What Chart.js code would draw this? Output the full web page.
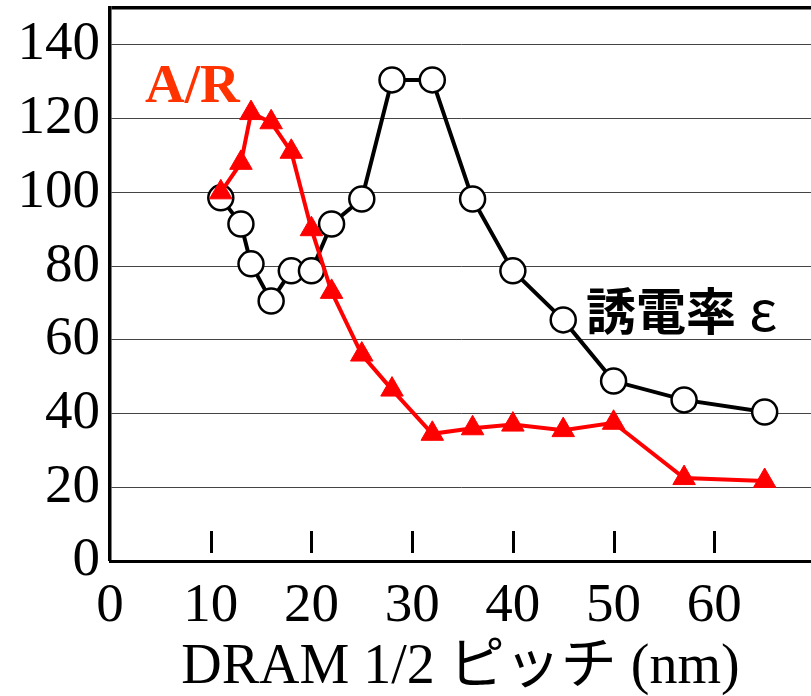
<!DOCTYPE html>
<html>
<head>
<meta charset="utf-8">
<script src="https://cdn.jsdelivr.net/npm/chart.js@4.4.1/dist/chart.umd.min.js"></script>
<style>
html,body{margin:0;padding:0;background:#fff;}
#wrap{position:relative;width:811px;height:696px;}
</style>
</head>
<body>
<div id="wrap"><canvas id="c" width="811" height="696"></canvas></div>
<script>
// DRAM half pitch (nm)
var pitch=[11,13,14,16,18,20,22,25,28,32,36,40,45,50,57,65];
// dielectric constant (white circles)
var eps=[98.5,91.4,80.6,70.5,78.7,78.7,91.4,98.2,130.5,130.5,98.2,78.7,65.4,48.8,43.7,40.4];
// aspect ratio (red triangles)
var ar=[100,108,121.5,119,111,90,73,56,46.5,34.5,36,37,35.5,37.5,22.5,21.7];
var xTicks=[0,10,20,30,40,50,60];
var yTicks=[0,20,40,60,80,100,120,140];
var serif="'Liberation Serif','Noto Sans CJK JP'";

function pts(v){return pitch.map(function(x,i){return {x:x,y:v[i]};});}

var notes={
  id:'notes',
  afterDraw:function(ch){
    var c=ch.ctx,xs=ch.scales.x,a=ch.chartArea;
    c.save();
    c.strokeStyle='#000';c.lineWidth=3;
    xTicks.forEach(function(t){
      if(t===0)return;
      var px=Math.round(xs.getPixelForValue(t))+0.5;
      c.beginPath();c.moveTo(px,a.bottom-30);c.lineTo(px,a.bottom-8);c.stroke();
    });
    c.fillStyle='#ff3300';
    c.font='bold 55px '+serif;
    c.textBaseline='alphabetic';
    c.fillText('A/R',145,102);
    c.fillStyle='#000';
    c.font="bold 50px 'Noto Sans CJK JP'";
    c.fillText('誘電率',586,330);
    c.font="56px 'Noto Sans CJK JP'";
    c.fillText('ε',749,331);
    c.restore();
  }
};

new Chart(document.getElementById('c'),{
  type:'line',
  data:{datasets:[
    {label:'A/R',data:pts(ar),borderColor:'#ff0000',borderWidth:4,pointStyle:'triangle',pointRadius:13,
     pointBackgroundColor:'#ff0000',pointBorderColor:'#ff0000',pointBorderWidth:1,order:0},
    {label:'誘電率 ε',data:pts(eps),borderColor:'#000',borderWidth:4,pointStyle:'circle',pointRadius:12.5,
     pointBackgroundColor:'#fff',pointBorderColor:'#000',pointBorderWidth:2.5,order:1}
  ]},
  options:{
    responsive:false,animation:false,clip:false,
    layout:{autoPadding:false,padding:{top:8,right:0,left:0,bottom:0}},
    plugins:{legend:{display:false},tooltip:{enabled:false}},
    scales:{
      x:{type:'linear',min:0,max:69.6,
        afterBuildTicks:function(s){s.ticks=xTicks.map(function(v){return {value:v};});},
        afterFit:function(s){s.height=135;s.paddingLeft=0;s.paddingRight=0;},
        grid:{display:false,drawTicks:false},
        border:{display:true,color:'#000',width:3},
        ticks:{color:'#000',padding:13,maxRotation:0,font:{family:serif,size:55}},
        title:{display:true,text:'DRAM 1/2 ピッチ (nm)',color:'#000',padding:{top:0,bottom:0},font:{family:serif,size:56,lineHeight:1}}
      },
      y:{min:0,max:150,
        afterBuildTicks:function(s){s.ticks=yTicks.concat([150]).map(function(v){return {value:v};});},
        afterFit:function(s){s.width=110;s.paddingTop=0;s.paddingBottom=0;},
        grid:{drawTicks:false,
          lineWidth:function(ctx){var v=ctx.tick&&ctx.tick.value;return v===150?3.5:(v===0?0:1);},
          color:function(ctx){var v=ctx.tick&&ctx.tick.value;return v===150?'#000':'#444';}},
        border:{display:true,color:'#000',width:3.5},
        ticks:{color:'#000',padding:10,font:{family:serif,size:55},
          callback:function(v){return v===150?'':v;}}
      }
    }
  },
  plugins:[notes]
});
</script>
</body>
</html>
